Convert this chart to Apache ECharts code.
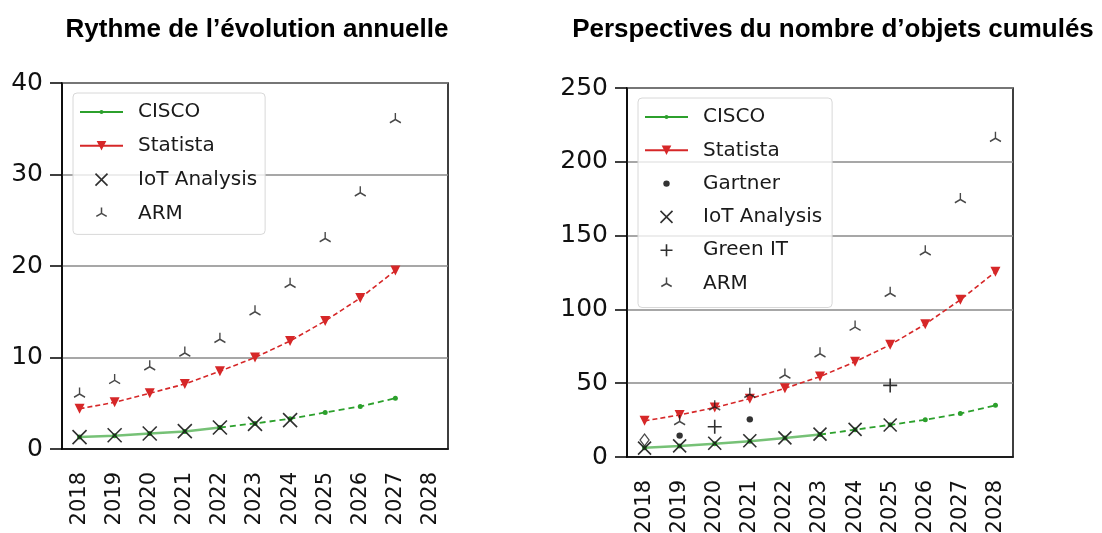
<!DOCTYPE html>
<html>
<head>
<meta charset="utf-8">
<script src="https://cdn.jsdelivr.net/npm/echarts@6/dist/echarts.min.js"></script>
<style>
  html, body { margin: 0; padding: 0; background: #fff; }
  #main { width: 1102px; height: 533px; }
</style>
</head>
<body>
<div id="main"></div>
<script>
// categories
const years = ['2018', '2019', '2020', '2021', '2022', '2023', '2024', '2025', '2026', '2027', '2028']

// left chart : rythme de l'évolution annuelle
const ciscoLeft = [1.3, 1.45, 1.7, 1.9, 2.35, 2.8, 3.3, 4.0, 4.65, 5.55, null]
const statistaLeft = [4.4, 5.1, 6.1, 7.1, 8.5, 10.0, 11.8, 14.0, 16.5, 19.5, null]
const iotLeft = [1.3, 1.5, 1.7, 1.95, 2.35, 2.75, 3.15, null, null, null, null]
const armLeft = [6, 7.5, 9, 10.5, 12, 15, 18, 23, 28, 36, null]
const leftSolidEnd = 4 // CISCO solid up to 2022

// right chart : perspectives du nombre d'objets cumulés
const ciscoRight = [6.2, 7.4, 9, 10.7, 12.8, 15.2, 18.5, 21.8, 25.2, 29.5, 35]
const statistaRight = [24.5, 28.5, 33.5, 39.5, 46.5, 54.5, 64.5, 76, 90, 106.5, 125.5]
const gartnerRight = [null, 14.5, null, 25.5, null, null, null, null, null, null, null]
const diamondRight = [11.5, null, null, null, null, null, null, null, null, null, null]
const iotRight = [6, 7.5, 9.3, 11, 13, 15.5, 18.7, 21.7, null, null, null]
const greenItRight = [null, null, 20.5, null, null, null, null, 48.5, null, null, null]
const armRight = [null, 24, 34, 42.5, 55.5, 70, 88, 111, 139, 174.5, 216]
const rightSolidEnd = 5 // CISCO solid up to 2023

// axis ticks
const leftTicks = { min: 0, max: 40, interval: 10 }
const rightTicks = { min: 0, max: 250, interval: 50 }

const GREEN = '#2ca02c'
const RED = '#d62728'
const INK = '#1a1a1a'

// marker shapes (matplotlib-like)
const X_PATH = 'path://M0,0L10,10M10,0L0,10'
const PLUS_PATH = 'path://M5,0L5,10M0,5L10,5'
const TRI_PATH = 'path://M5,5L5,0M5,5L0.67,7.5M5,5L9.33,7.5M5,10L5,10'
const DOT_PATH = 'path://M0,0L0,0M12,12L12,12M6,3.5A2.5,2.5,0,1,1,6,8.5A2.5,2.5,0,1,1,6,3.5Z'
const GDOT_PATH = 'path://M0,0L0,0M12,12L12,12M6,2.8A3.2,3.2,0,1,1,6,9.2A3.2,3.2,0,1,1,6,2.8Z'

function part(arr, from, to) {
  return arr.map((v, i) => (i >= from && i <= to ? v : null))
}
function pts(arr) {
  const out = []
  arr.forEach((v, i) => { if (v !== null) out.push([i, v]) })
  return out
}

const font = 'DejaVu Sans'

function xAxis(gridIndex) {
  return {
    type: 'category',
    gridIndex: gridIndex,
    data: years,
    boundaryGap: true,
    axisLine: { lineStyle: { color: '#000', width: 1.5 } },
    axisTick: { alignWithLabel: true, interval: 0, length: 14, lineStyle: { color: '#000', width: 1.5 } },
    axisLabel: { interval: 0, rotate: 90, margin: 23, fontSize: 21, fontFamily: font, color: '#111' },
    splitLine: { show: false }
  }
}
function yAxis(gridIndex, ticks) {
  return {
    type: 'value',
    gridIndex: gridIndex,
    min: ticks.min,
    max: ticks.max,
    interval: ticks.interval,
    axisLine: { show: true, lineStyle: { color: '#000', width: 1.5 } },
    axisTick: { show: true, length: 12, lineStyle: { color: '#000', width: 1.5 } },
    axisLabel: { margin: 19, fontSize: 25, fontFamily: font, color: '#111' },
    splitLine: { lineStyle: { color: '#8a8a8a', width: 1.5 } }
  }
}

function ciscoSeries(idx, data, solidEnd) {
  return [
    {
      name: 'CISCO', type: 'line', xAxisIndex: idx, yAxisIndex: idx,
      data: part(data, 0, solidEnd),
      symbol: DOT_PATH, symbolSize: 12,
      itemStyle: { color: GREEN, borderWidth: 0 },
      lineStyle: { color: GREEN, width: 2.5, opacity: 0.65 },
      animation: false, z: 2
    },
    {
      name: 'CISCO', type: 'line', xAxisIndex: idx, yAxisIndex: idx,
      data: part(data, solidEnd, data.length - 1),
      symbol: DOT_PATH, symbolSize: 12,
      itemStyle: { color: GREEN, borderWidth: 0 },
      lineStyle: { color: GREEN, width: 1.8, type: [6, 4] },
      animation: false, z: 2
    }
  ]
}
function statistaSeries(idx, data) {
  return {
    name: 'Statista', type: 'line', xAxisIndex: idx, yAxisIndex: idx,
    data: data,
    symbol: 'triangle', symbolRotate: 180, symbolSize: 10,
    itemStyle: { color: RED, borderWidth: 0 },
    lineStyle: { color: RED, width: 1.6, type: [5, 3] },
    animation: false, z: 2
  }
}
function markerSeries(idx, name, data, symbol, size, extra) {
  return Object.assign({
    name: name, type: 'scatter', xAxisIndex: idx, yAxisIndex: idx,
    data: pts(data),
    symbol: symbol, symbolSize: size,
    itemStyle: { color: INK, borderColor: INK, borderWidth: 1.6, opacity: 0.9 },
    animation: false, z: 3
  }, extra || {})
}

function legend(left, top, names, gap, padding) {
  const styles = {
    'CISCO': {},
    'Statista': {},
    'Gartner': { itemStyle: { borderWidth: 0 } },
    'IoT Analysis': { itemStyle: { borderWidth: 1.6 } },
    'Green IT': { itemStyle: { borderWidth: 1.6 } },
    'ARM': { itemStyle: { borderWidth: 1.5 } }
  }
  return {
    orient: 'vertical',
    left: left,
    top: top,
    itemWidth: 43,
    itemHeight: 12,
    itemGap: gap,
    padding: padding,
    backgroundColor: 'rgba(255,255,255,0.8)',
    borderColor: '#d8d8d8',
    borderWidth: 1,
    borderRadius: 4,
    selectedMode: false,
    lineStyle: { type: 'solid', width: 2, opacity: 1 },
    textStyle: { fontFamily: font, fontSize: 20, color: '#1a1a1a', lineHeight: 20, padding: [0, 0, 0, 10] },
    data: names.map(n => Object.assign({ name: n }, styles[n]))
  }
}

const chart = echarts.init(document.getElementById('main'))
const option = {
  backgroundColor: '#fff',
  animation: false,
  graphic: [
    {
      type: 'text', x: 257, y: 30,
      style: { text: 'Rythme de l’évolution annuelle', fill: '#000', align: 'center', verticalAlign: 'middle',
        font: 'bold 26px "Liberation Sans", Arial, sans-serif' }
    },
    {
      type: 'text', x: 833, y: 30,
      style: { text: 'Perspectives du nombre d’objets cumulés', fill: '#000', align: 'center', verticalAlign: 'middle',
        font: 'bold 26px "Liberation Sans", Arial, sans-serif' }
    }
  ],
  grid: [
    { left: 62, top: 83, width: 386, height: 366, show: true, borderColor: '#000', borderWidth: 1.5, outerBoundsMode: 'none' },
    { left: 627, top: 88, width: 386, height: 369, show: true, borderColor: '#000', borderWidth: 1.5, outerBoundsMode: 'none' }
  ],
  xAxis: [xAxis(0), xAxis(1)],
  yAxis: [yAxis(0, leftTicks), yAxis(1, rightTicks)],
  legend: [
    legend(73, 93, ['CISCO', 'Statista', 'IoT Analysis', 'ARM'], 13.8, [9, 8, 11, 6]),
    legend(638, 98, ['CISCO', 'Statista', 'Gartner', 'IoT Analysis', 'Green IT', 'ARM'], 13.3, [9, 10, 14, 6])
  ],
  series: [
    ...ciscoSeries(0, ciscoLeft, leftSolidEnd),
    statistaSeries(0, statistaLeft),
    markerSeries(0, 'IoT Analysis', iotLeft, X_PATH, 14),
    markerSeries(0, 'ARM', armLeft, TRI_PATH, [11, 13], { itemStyle: { color: INK, borderColor: INK, borderWidth: 1.5 } }),

    ...ciscoSeries(1, ciscoRight, rightSolidEnd),
    statistaSeries(1, statistaRight),
    markerSeries(1, 'Gartner', gartnerRight, GDOT_PATH, 12, { itemStyle: { color: '#000', borderWidth: 0 } }),
    markerSeries(1, 'Gartner 2018', diamondRight, 'diamond', [9, 12], { itemStyle: { color: '#fff', borderColor: INK, borderWidth: 1.3 } }),
    markerSeries(1, 'IoT Analysis', iotRight, X_PATH, 13),
    markerSeries(1, 'Green IT', greenItRight, PLUS_PATH, 14),
    markerSeries(1, 'ARM', armRight, TRI_PATH, [11, 13], { itemStyle: { color: INK, borderColor: INK, borderWidth: 1.5 } })
  ]
}
chart.setOption(option)
</script>
</body>
</html>
